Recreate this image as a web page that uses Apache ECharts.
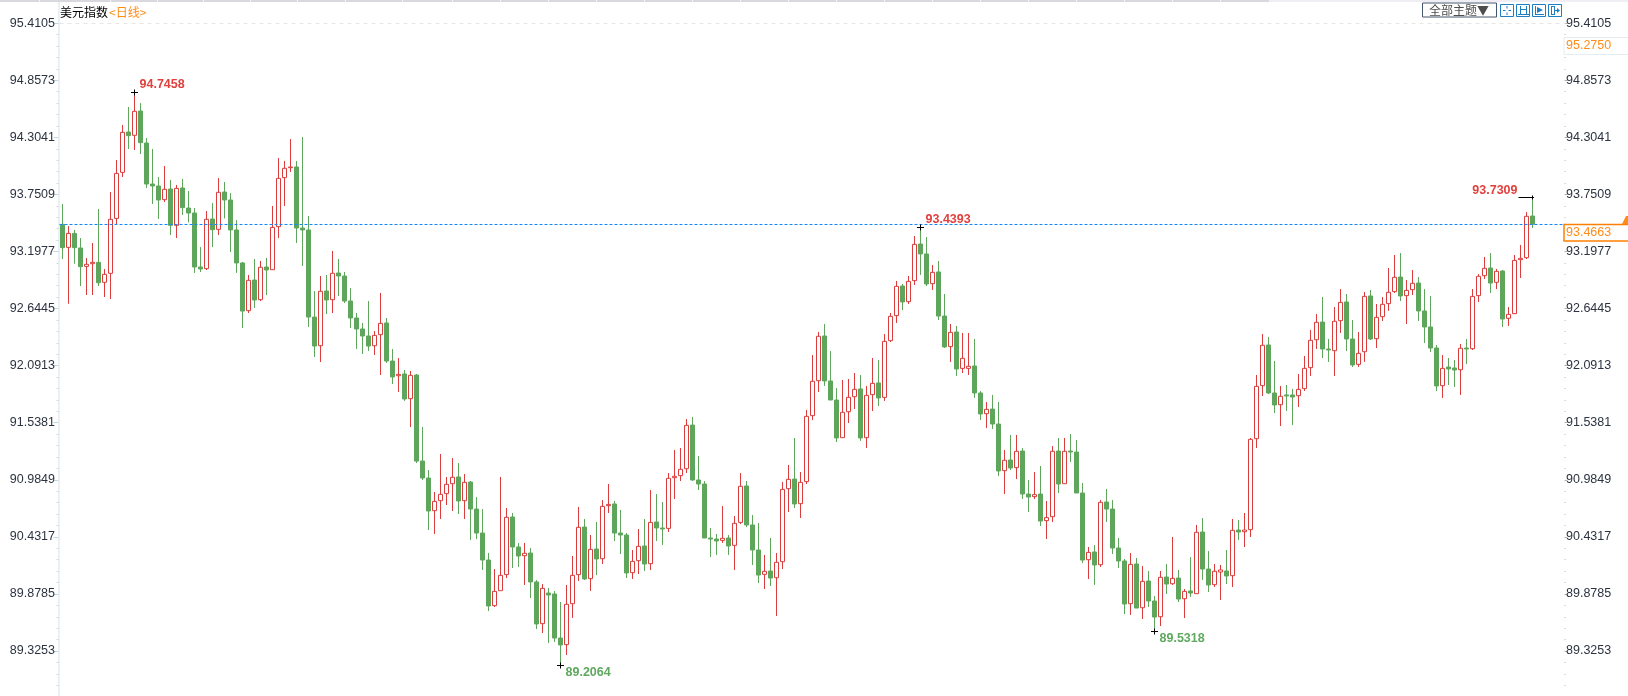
<!DOCTYPE html>
<html>
<head>
<meta charset="utf-8">
<style>html,body{margin:0;padding:0;background:#fff;overflow:hidden}#c{width:1628px;height:696px}</style>
<script src="https://cdn.jsdelivr.net/npm/echarts@6/dist/echarts.min.js"></script>
</head>
<body>
<div id="c"></div>
<script>
const opens = [
93.466,93.244,93.379,93.238,93.060,93.086,93.099,92.906,92.993,93.524,
93.969,94.359,94.327,94.562,94.253,93.856,93.837,93.705,93.808,93.457,
93.818,93.624,93.576,93.054,93.038,93.518,93.418,93.779,93.702,93.412,
93.093,92.632,92.928,92.738,93.054,93.028,93.444,93.918,94.014,94.021,
93.431,93.412,92.570,92.293,92.822,92.738,92.996,92.967,92.725,92.561,
92.455,92.387,92.293,92.400,92.513,92.145,92.003,92.020,91.781,92.010,
91.178,91.014,90.698,90.795,90.863,90.959,91.024,90.795,90.975,90.714,
90.482,90.221,89.780,89.925,90.080,90.637,90.347,90.263,90.289,90.009,
89.606,89.902,89.893,89.467,89.403,89.799,90.080,90.540,90.041,90.328,
90.234,90.747,90.763,90.482,90.463,90.099,90.215,90.357,90.186,90.589,
90.531,90.527,91.017,91.037,91.104,91.526,90.995,90.956,90.434,90.424,
90.411,90.434,90.363,90.585,90.937,90.560,90.318,90.083,90.115,90.050,
90.205,90.911,91.004,90.766,90.979,91.617,91.955,92.387,91.952,91.768,
91.404,91.655,91.800,91.875,91.404,91.820,91.933,91.794,92.342,92.584,
92.870,92.719,92.922,93.276,93.180,92.893,93.006,92.580,92.284,92.426,
92.074,92.074,92.097,91.836,91.636,91.681,91.536,91.085,91.188,91.114,
91.275,90.859,90.834,90.859,90.602,90.640,91.275,90.959,91.275,91.265,
90.869,90.224,90.299,90.176,90.782,90.714,90.337,90.212,89.799,90.183,
89.760,90.018,89.825,89.673,90.057,89.992,90.047,89.847,89.922,89.896,
90.492,90.134,89.983,90.105,90.115,90.070,90.511,90.495,90.515,91.394,
91.907,92.300,91.836,91.723,91.817,91.817,91.810,91.878,92.081,92.351,
92.522,92.261,92.245,92.535,92.716,92.358,92.113,92.235,92.774,92.361,
92.574,92.700,92.816,92.957,92.777,92.835,92.899,92.629,92.474,92.271,
91.907,92.087,92.078,92.061,92.271,92.264,92.777,92.970,93.044,92.906,
93.015,92.558,92.603,93.125,93.144,93.547];
const closes = [
93.241,93.379,93.241,93.057,93.080,93.099,92.902,92.983,93.515,93.959,
94.356,94.324,94.559,94.256,93.856,93.837,93.702,93.805,93.457,93.814,
93.628,93.576,93.054,93.035,93.515,93.415,93.776,93.702,93.412,93.093,
92.628,92.925,92.735,93.051,93.025,93.437,93.911,94.008,94.021,93.431,
93.412,92.570,92.290,92.819,92.735,92.993,92.967,92.725,92.561,92.455,
92.387,92.290,92.393,92.509,92.145,91.991,92.016,91.778,92.007,91.178,
91.014,90.695,90.788,90.856,90.953,91.021,90.792,90.972,90.714,90.482,
90.221,89.777,89.918,90.073,90.634,90.347,90.260,90.286,90.009,89.603,
89.947,89.883,89.467,89.400,89.793,90.073,90.537,90.038,90.324,90.231,
90.740,90.759,90.482,90.463,90.096,90.208,90.353,90.183,90.585,90.531,
90.521,91.011,91.030,91.098,91.523,90.995,90.956,90.434,90.424,90.405,
90.431,90.357,90.576,90.934,90.560,90.318,90.076,90.112,90.047,90.199,
90.904,91.001,90.763,90.972,91.610,91.949,92.384,91.952,91.768,91.401,
91.649,91.794,91.871,91.401,91.813,91.929,91.788,92.335,92.577,92.867,
92.716,92.915,93.273,93.180,92.890,93.002,92.580,92.281,92.422,92.068,
92.171,92.094,91.836,91.633,91.678,91.536,91.082,91.185,91.111,91.272,
90.859,90.830,90.853,90.598,90.631,91.272,90.956,91.272,91.265,90.869,
90.221,90.295,90.173,90.779,90.714,90.337,90.212,89.796,90.179,89.757,
90.015,89.825,89.670,90.054,89.989,90.044,89.844,89.918,89.902,90.489,
90.134,89.980,90.112,90.125,90.067,90.508,90.492,90.511,91.388,91.900,
92.297,91.836,91.720,91.804,91.807,91.797,91.871,92.074,92.345,92.519,
92.261,92.252,92.529,92.712,92.358,92.107,92.219,92.770,92.358,92.567,
92.693,92.809,92.954,92.774,92.828,92.896,92.629,92.474,92.271,91.904,
92.074,92.068,92.058,92.268,92.261,92.770,92.964,93.041,92.899,93.012,
92.551,92.596,93.118,93.138,93.544,93.4663];
const highs = [
93.663,93.450,93.412,93.334,93.141,93.286,93.615,93.035,93.779,94.088,
94.427,94.601,94.7458,94.639,94.301,94.195,93.924,94.030,93.895,93.847,
93.905,93.789,93.624,93.247,93.595,93.673,93.914,93.876,93.769,93.508,
93.102,92.977,93.131,93.112,93.141,93.644,94.108,94.079,94.291,94.079,
94.311,93.547,92.822,92.967,92.977,93.209,93.131,93.006,92.851,92.609,
92.513,92.725,92.435,92.803,92.561,92.261,92.174,92.058,92.049,92.020,
91.507,91.091,90.879,91.246,91.024,91.207,91.159,91.053,90.985,90.830,
90.714,90.289,90.134,91.024,90.724,90.676,90.386,90.386,90.337,90.028,
89.989,89.951,89.922,89.815,89.980,90.260,90.734,90.618,90.463,90.589,
90.801,90.956,90.792,90.705,90.482,90.318,90.521,90.618,90.898,90.859,
90.782,91.062,91.285,91.304,91.584,91.604,91.227,90.985,90.531,90.473,
90.743,90.463,90.647,91.062,90.985,90.656,90.579,90.270,90.434,90.289,
90.975,91.140,91.401,91.072,91.672,92.203,92.426,92.503,92.242,91.884,
91.962,91.971,92.029,92.010,91.904,92.174,92.155,92.406,92.609,92.919,
92.890,92.967,93.354,93.4393,93.344,93.073,93.112,92.793,92.503,92.484,
92.416,92.416,92.358,91.855,91.749,91.817,91.749,91.285,91.430,91.430,
91.304,90.995,91.072,91.130,90.792,91.323,91.401,91.401,91.439,91.381,
90.966,90.347,90.366,90.801,90.908,90.801,90.434,90.231,90.289,90.241,
90.163,90.115,89.873,90.115,90.183,90.444,90.125,89.941,90.250,90.560,
90.627,90.308,90.183,90.173,90.318,90.618,90.608,90.676,91.401,92.010,
92.406,92.377,92.145,91.904,91.913,91.875,92.020,92.194,92.445,92.600,
92.764,92.358,92.667,92.841,92.793,92.542,92.426,92.812,92.832,92.696,
92.764,93.044,93.170,93.189,92.928,93.025,92.957,92.841,92.774,92.300,
92.203,92.174,92.155,92.310,92.358,92.841,92.986,93.151,93.189,93.035,
93.025,92.667,93.170,93.267,93.586,93.7309];
const lows = [
93.131,92.699,93.086,92.870,92.783,92.783,92.870,92.764,92.744,93.466,
93.924,94.195,94.185,94.146,93.818,93.663,93.518,93.682,93.363,93.334,
93.557,93.486,92.996,93.006,93.025,93.247,93.363,93.524,93.199,92.996,
92.464,92.609,92.658,92.725,92.783,93.025,93.334,93.644,93.972,93.286,
93.064,92.474,92.184,92.135,92.599,92.609,92.774,92.706,92.464,92.261,
92.213,92.242,92.203,92.010,92.126,91.923,91.846,91.759,91.507,91.159,
90.995,90.511,90.473,90.618,90.753,90.695,90.666,90.618,90.415,90.424,
90.125,89.728,89.767,89.925,90.047,90.144,90.154,89.980,89.854,89.554,
89.516,89.419,89.429,89.2064,89.303,89.661,90.018,90.028,89.922,90.076,
90.183,90.676,90.405,90.279,90.047,90.038,90.086,90.115,90.125,90.405,
90.366,90.492,90.811,90.985,91.062,90.985,90.898,90.434,90.250,90.270,
90.386,90.270,90.125,90.569,90.540,90.173,89.999,89.941,89.970,89.680,
90.134,90.685,90.724,90.627,90.956,91.575,91.846,91.904,91.768,91.362,
91.404,91.546,91.681,91.372,91.304,91.662,91.710,91.759,92.329,92.513,
92.638,92.696,92.880,92.977,92.870,92.832,92.542,92.271,92.136,92.000,
92.029,92.010,91.788,91.575,91.497,91.488,91.033,90.859,91.091,91.004,
90.811,90.685,90.811,90.550,90.424,90.589,90.869,90.959,91.169,90.869,
90.192,90.038,89.980,90.154,90.589,90.279,90.144,89.699,89.690,89.757,
89.651,89.767,89.5318,89.583,89.893,89.980,89.815,89.660,89.864,89.896,
90.028,89.912,89.960,89.835,89.989,89.960,90.415,90.347,90.444,91.304,
91.807,91.826,91.642,91.517,91.662,91.526,91.700,91.855,92.000,92.261,
92.174,92.136,92.000,92.416,92.242,92.087,92.087,92.136,92.348,92.271,
92.532,92.629,92.803,92.725,92.503,92.783,92.532,92.319,92.232,91.855,
91.788,91.913,91.894,91.817,92.116,92.252,92.716,92.938,92.803,92.841,
92.474,92.484,92.600,92.948,93.131,93.431];

const tickValues = [95.4105,94.8573,94.3041,93.7509,93.1977,92.6445,92.0913,91.5381,90.9849,90.4317,89.8785,89.3253];
const minorValues = [];
tickValues.forEach(v => { for (let j = 1; j < 5; j++) minorValues.push(+(v - j * 0.11064).toFixed(4)); });

const currentPrice = 93.4663;
const referencePrice = 95.2750;
const topGuide = 95.4105;

const annotationIndex = [12, 83, 143, 182, 245];
const annotationValue = [94.7458, 89.2064, 93.4393, 89.5318, 93.7309];
const annotationDir = ['up', 'down', 'up', 'down', 'left'];
const annotationColor = ['#e0413d', '#5fa85f', '#e0413d', '#5fa85f', '#e0413d'];

const categories = Array.from({ length: 251 }, (_, i) => String(i));
const candleData = opens.map((o, i) => [o, closes[i], lows[i], highs[i]]);

const FONT = '"Liberation Sans", Arial, sans-serif';
const CJK = '"Noto Sans CJK SC", "Liberation Sans", sans-serif';

function yAxisBase(position, min, max, extra) {
  return Object.assign({
    type: 'value', position, min, max, scale: true, splitLine: { show: false },
    axisLine: { show: false }, axisTick: { show: false }, axisLabel: { show: false }
  }, extra);
}
const tickMin = 88.8891, tickMax = 95.6160;
const labelStyle = { color: '#2c3340', fontSize: 12.5, fontFamily: FONT, customValues: tickValues, formatter: v => v.toFixed(4) };

const iconBlue = '#1f7fc4';
function btn(x) { return { type: 'rect', shape: { x: x + .5, y: 4.5, width: 13, height: 12 }, style: { fill: '#fff', stroke: iconBlue, lineWidth: 1 }, z: 20 }; }
function seg(x1, y1, x2, y2) { return { type: 'line', shape: { x1, y1, x2, y2 }, style: { stroke: iconBlue, lineWidth: 1 }, z: 21 }; }
function solid(points) { return { type: 'polygon', shape: { points }, style: { fill: iconBlue }, z: 21 }; }

const topSeparators = [39,110,157,203,250,297,345,402,452,500,548,596,644,692,740,788,836,884,932,980,1028,1076,1124,1172,1220];

const graphic = [
  { type: 'rect', shape: { x: 0, y: 0, width: 1269, height: 2 }, style: { fill: '#d8d8de' }, z: 10 },
  { type: 'rect', shape: { x: 1269, y: 0, width: 359, height: 2 }, style: { fill: '#eeeef4' }, z: 10 },
  ...topSeparators.map(x => ({ type: 'rect', shape: { x, y: 0, width: 1, height: 2 }, style: { fill: '#f4f4f6' }, z: 11 })),
  { type: 'text', x: 60, y: 12, style: { text: '美元指数', font: '12px ' + CJK, fill: '#000', textVerticalAlign: 'middle' }, z: 20 },
  { type: 'text', x: 109, y: 12, style: { text: '<日线>', font: '12px ' + CJK, fill: '#ff8c1a', textVerticalAlign: 'middle' }, z: 20 },
  { type: 'rect', shape: { x: 1422.5, y: 3, width: 74, height: 14 }, style: { fill: '#fff', stroke: '#46566e', lineWidth: 1 }, z: 20 },
  { type: 'text', x: 1429, y: 10.5, style: { text: '全部主题▼', font: '12px ' + CJK, fill: '#4d4d4d', textVerticalAlign: 'middle' }, z: 21 },
  btn(1500), btn(1516), btn(1532), btn(1548),
  seg(1507, 6, 1507, 8.5), seg(1507, 12.5, 1507, 15), seg(1503, 10.5, 1505.5, 10.5), seg(1508.5, 10.5, 1511, 10.5),
  seg(1520.5, 6, 1520.5, 14), seg(1526.5, 6, 1526.5, 14), seg(1518, 14.5, 1529, 14.5), seg(1521, 9.5, 1526, 9.5),
  seg(1535.5, 6, 1535.5, 14.5), seg(1535, 14.5, 1544, 14.5),
  solid([[1537, 7], [1537, 13], [1543, 10]]),
  seg(1551.5, 6, 1551.5, 15), seg(1554.5, 6, 1554.5, 15), seg(1551, 6.5, 1555, 6.5), seg(1551, 14.5, 1555, 14.5), seg(1554, 10.5, 1558, 10.5),
  solid([[1557, 8], [1557, 13], [1560, 10.5]]),
  { type: 'rect', shape: { x: 1564, y: 37.5, width: 66, height: 17 }, style: { fill: '#fff', stroke: '#e4ecef', lineWidth: 1 }, z: 20 },
  { type: 'text', x: 1566, y: 45.5, style: { text: referencePrice.toFixed(4), font: '12.5px ' + FONT, fill: '#ff8c1a', textVerticalAlign: 'middle' }, z: 21 },
  { type: 'rect', shape: { x: 1564, y: 224.5, width: 66, height: 16.5 }, style: { fill: '#fff', stroke: '#ff8000', lineWidth: 1.5 }, z: 20 },
  { type: 'text', x: 1566, y: 233, style: { text: currentPrice.toFixed(4), font: '12.5px ' + FONT, fill: '#ff8c1a', textVerticalAlign: 'middle' }, z: 21 },
  { type: 'polygon', shape: { points: [[1622, 224], [1626, 216], [1628, 216], [1628, 224]] }, style: { fill: '#ff8c1a' }, z: 21 }
];

const option = {
  animation: false,
  backgroundColor: '#fff',
  grid: { left: 59.5, top: 2, width: 1506, height: 694, containLabel: false },
  xAxis: { type: 'category', data: categories, boundaryGap: true, show: false },
  yAxis: [
    yAxisBase('right', 88.9066, 95.6159, {}),
    yAxisBase('left', tickMin, tickMax, {
      offset: 1,
      axisLine: { show: true, lineStyle: { color: '#e3edf2', width: 1.5 } },
      axisTick: { show: true, inside: false, length: 5, lineStyle: { color: '#c4d6e0' }, customValues: tickValues },
      axisLabel: Object.assign({ show: true, margin: 3.5 }, labelStyle)
    }),
    yAxisBase('left', tickMin, tickMax, {
      offset: 1,
      axisTick: { show: true, inside: false, length: 2, lineStyle: { color: '#cfd8dd' }, customValues: minorValues },
      axisLabel: { show: false, customValues: minorValues }
    }),
    yAxisBase('right', tickMin, tickMax, {
      offset: -1,
      axisTick: { show: true, inside: false, length: 3, lineStyle: { color: '#b0b0b0' }, customValues: tickValues },
      axisLabel: Object.assign({ show: true, margin: 1.5 }, labelStyle)
    }),
    yAxisBase('right', tickMin, tickMax, {
      offset: -1,
      axisTick: { show: true, inside: false, length: 1, lineStyle: { color: '#b8b8b8' }, customValues: minorValues },
      axisLabel: { show: false, customValues: minorValues }
    })
  ],
  series: [
    {
      type: 'candlestick',
      yAxisIndex: 0,
      data: candleData,
      barWidth: 4,
      clip: false,
      itemStyle: { color: '#ffffff', color0: '#5fa65d', borderColor: '#dd3c3c', borderColor0: '#5fa65d', borderWidth: 1 },
      markLine: {
        silent: true, symbol: 'none', animation: false, label: { show: false },
        data: [
          { yAxis: currentPrice, lineStyle: { color: '#1188ff', type: [3, 2], width: 1 } },
          { yAxis: topGuide, lineStyle: { color: '#e6e6e6', type: [4, 4], width: 1 } }
        ]
      }
    },
    {
      type: 'custom',
      yAxisIndex: 0,
      silent: true,
      clip: false,
      z: 5,
      data: annotationIndex.map((k, i) => [k, annotationValue[i], i]),
      renderItem(params, api) {
        const p = api.coord([api.value(0), api.value(1)]);
        const i = api.value(2);
        const dir = annotationDir[i];
        const x = p[0], y = Math.round(p[1]) + .5;
        const line = (x1, y1, x2, y2) => ({ type: 'line', shape: { x1, y1, x2, y2 }, style: { stroke: '#000', lineWidth: 1 } });
        const txt = annotationValue[i].toFixed(4);
        const font = 'bold 12.5px ' + FONT;
        const fill = annotationColor[i];
        if (dir === 'left') {
          return { type: 'group', children: [
            line(x - 14, y, x + 1.5, y), line(x, y - 2, x, y + 2),
            { type: 'text', style: { text: txt, x: x - 15, y: y - 7, font, fill, textAlign: 'right', textVerticalAlign: 'middle' } }
          ] };
        }
        return { type: 'group', children: [
          line(x - 3.5, y, x + 3.5, y), line(x, y - 3, x, y + 3),
          { type: 'text', style: { text: txt, x: x + 5, y: dir === 'up' ? y - 7.5 : y + 7.5, font, fill, textAlign: 'left', textVerticalAlign: 'middle' } }
        ] };
      }
    }
  ],
  graphic
};

const chart = echarts.init(document.getElementById('c'), null, { renderer: 'canvas', width: 1628, height: 696 });
chart.setOption(option);
</script>
</body>
</html>
